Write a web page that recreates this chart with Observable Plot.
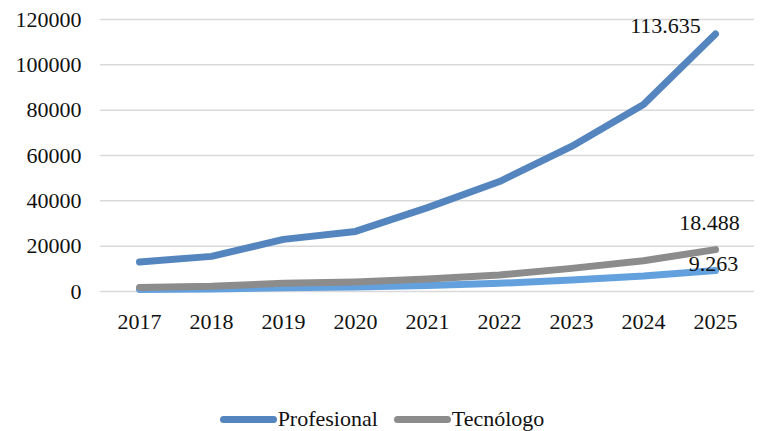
<!DOCTYPE html>
<html>
<head>
<meta charset="utf-8">
<script src="https://cdn.jsdelivr.net/npm/d3@7"></script>
<script src="https://cdn.jsdelivr.net/npm/@observablehq/plot@0.6"></script>
<style>
  body { margin: 0; background: #fff; font-family: "Liberation Serif", serif; }
  #legend { display: flex; justify-content: center; align-items: center; gap: 16px; height: 36px; padding-top: 6px; font-size: 22px; color: #111; }
  .item { display: flex; align-items: center; }
  .sw { width: 57px; height: 7px; border-radius: 4px; margin-right: 1px; }
</style>
</head>
<body>
<div id="chart"></div>
<div id="legend"></div>
<script>
const years = [2017, 2018, 2019, 2020, 2021, 2022, 2023, 2024, 2025];
const profesional = [13000, 15500, 23000, 26500, 37000, 48500, 64000, 82500, 113635];
const tecnologo = [1800, 2300, 3600, 4200, 5500, 7300, 10200, 13600, 18488];
const tecnico = [900, 1100, 1600, 2000, 2700, 3600, 5100, 6800, 9263];
const yTicks = [0, 20000, 40000, 60000, 80000, 100000, 120000];
const seriesNames = ["Profesional", "Tecnólogo", "Técnico"];
const seriesColors = ["#5585BE", "#8C8C8C", "#63A1DE"];
const endLabels = ["113.635", "18.488", "9.263"];

const seriesValues = [profesional, tecnologo, tecnico];
const data = [];
seriesValues.forEach((vals, s) => vals.forEach((v, i) => data.push({year: years[i], value: v, series: seriesNames[s]})));
const last = seriesValues.map((vals, s) => ({year: years[years.length - 1], value: vals[vals.length - 1], label: endLabels[s]}));

const chart = Plot.plot({
  width: 764,
  height: 395,
  marginLeft: 100,
  marginRight: 10,
  marginTop: 19,
  marginBottom: 104,
  style: {fontFamily: "Liberation Serif, serif", fontSize: "22px", color: "#111", background: "#fff"},
  x: {type: "point", domain: years, padding: 0.5},
  y: {domain: [0, 120000]},
  color: {domain: seriesNames, range: seriesColors},
  marks: [
    Plot.gridY(yTicks, {stroke: "#d9d9d9", strokeOpacity: 1, strokeWidth: 1.5}),
    Plot.axisY(yTicks, {tickSize: 0, tickPadding: 19, tickFormat: d3.format("d"), label: null, fontSize: 22}),
    Plot.axisX(years, {tickSize: 0, tickPadding: 22, tickFormat: d => String(d), label: null, fontSize: 22}),
    Plot.line(data.filter(d => d.series !== "Profesional").reverse(), {x: "year", y: "value", z: "series", stroke: "series", strokeWidth: 7, strokeLinecap: "round", strokeLinejoin: "round"}),
    Plot.line(data.filter(d => d.series === "Profesional"), {x: "year", y: "value", stroke: "series", strokeWidth: 7, strokeLinecap: "round", strokeLinejoin: "round"}),
    Plot.text([last[0]], {x: "year", y: "value", text: "label", dx: -50, dy: -8, fontSize: 22, fill: "#111"}),
    Plot.text([last[1]], {x: "year", y: "value", text: "label", dx: -6, dy: -27, fontSize: 22, fill: "#111"}),
    Plot.text([last[2]], {x: "year", y: "value", text: "label", dx: -2, dy: -7, fontSize: 22, fill: "#111"})
  ]
});
document.getElementById("chart").appendChild(chart);

const legend = document.getElementById("legend");
[0, 1].forEach(i => {
  const it = document.createElement("div");
  it.className = "item";
  it.innerHTML = `<span class="sw" style="background:${seriesColors[i]}"></span><span>${seriesNames[i]}</span>`;
  legend.appendChild(it);
});
</script>
</body>
</html>
